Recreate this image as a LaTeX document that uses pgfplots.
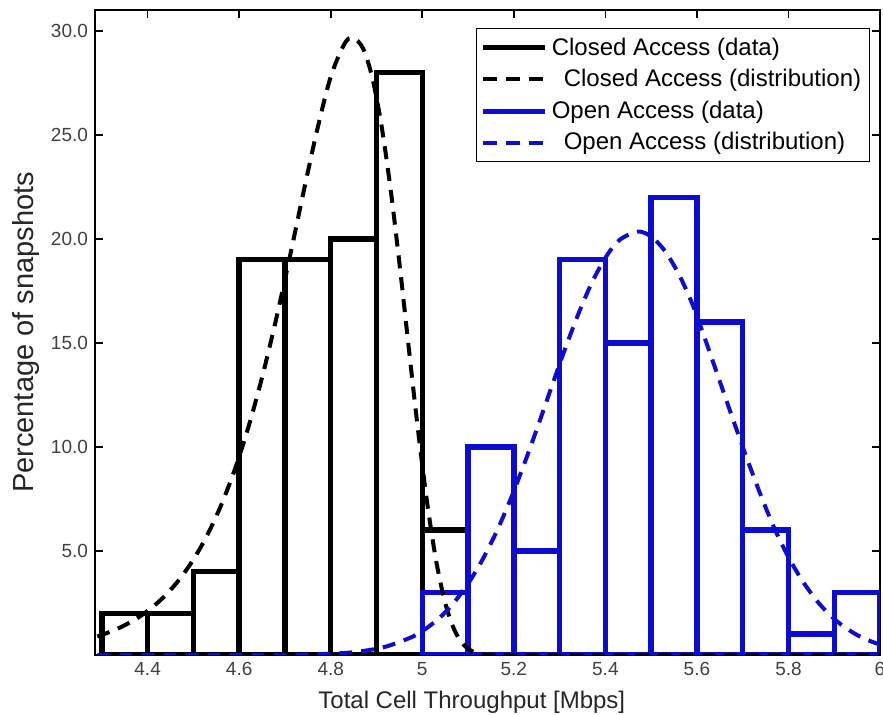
\documentclass[border=0pt]{standalone}
\usepackage{pgfplots}
\pgfplotsset{compat=1.18}
\usepackage{fontspec}
\setmainfont{Liberation Sans}
\definecolor{mblue}{rgb}{0.05,0.05,0.82}
\begin{document}
\begin{tikzpicture}
\begin{axis}[
  name=ax,
  scale only axis, width=392.5pt, height=322.5pt,
  xmin=4.285, xmax=6, ymin=0, ymax=31,
  xtick={4.4,4.6,4.8,5,5.2,5.4,5.6,5.8,6},
  xticklabels={4.4,4.6,4.8,5,5.2,5.4,5.6,5.8,6},
  ytick={5,10,15,20,25,30},
  yticklabels={5.0,10.0,15.0,20.0,25.0,30.0},
  /pgf/number format/assume math mode=true,
  tick align=inside, major tick length=4pt,
  axis line style={line width=0.8pt},
  tick style={black, line width=0.8pt},
  ticklabel style={font=\fontsize{9.5}{11}\selectfont, text=black!75},
  xlabel={Total Cell Throughput [Mbps]},
  ylabel={Percentage of snapshots},
  xlabel style={font=\fontsize{12}{14}\selectfont, text=black!85, at={(axis description cs:0.48,0)}, anchor=center, yshift=-23.5pt},
  ylabel style={font=\fontsize{14.5}{16}\selectfont, text=black!85, at={(axis description cs:-0.088,0.5)}, anchor=center},
  legend style={at={(axis description cs:0.987,0.972)}, anchor=north east,
    draw=black, line width=0.6pt, font=\fontsize{12}{14}\selectfont,
    inner xsep=2pt, inner ysep=2.5pt, row sep=1.6pt},
  legend cell align=left,
  legend image code/.code={\draw[#1] (0pt,0pt) -- (31pt,0pt);},
]
% Closed access histogram
\addplot[forget plot, ybar, bar width=0.1, bar shift=0pt, draw=black, fill=none, line width=2.7pt, line join=miter]
  coordinates {(4.35,2)(4.45,2)(4.55,4)(4.65,19)(4.75,19)(4.85,20)(4.95,28)(5.05,6)};
% Open access histogram
\addplot[forget plot, ybar, bar width=0.1, bar shift=0pt, draw=mblue, fill=none, line width=2.7pt, line join=miter]
  coordinates {(5.05,3)(5.15,10)(5.25,5)(5.35,19)(5.45,15)(5.55,22)(5.65,16)(5.75,6)(5.85,1)(5.95,3)};
% Closed access distribution
\addplot[forget plot, black, line width=2pt, dash pattern=on 6.5pt off 4.5pt, smooth]
  coordinates {(4.29,0.89)(4.32,1.13)(4.35,1.43)(4.38,1.81)(4.41,2.29)(4.44,2.89)(4.47,3.65)(4.50,4.59)(4.53,5.75)(4.56,7.17)(4.59,8.89)(4.62,10.94)(4.65,13.34)(4.68,16.07)(4.71,19.07)(4.74,22.19)(4.77,25.20)(4.80,27.79)(4.83,29.37)(4.848,29.67)(4.87,29.18)(4.89,27.82)(4.91,25.57)(4.93,22.52)(4.95,18.85)(4.97,14.86)(4.99,10.94)(5.01,7.42)(5.03,4.56)(5.05,2.51)(5.07,1.21)(5.09,0.50)(5.11,0.17)(5.13,0.05)(5.16,0.01)(5.3,0)(5.6,0)(6,0)};
% Open access distribution
\addplot[forget plot, mblue, line width=2pt, dash pattern=on 6.5pt off 4.5pt, smooth]
  coordinates {(4.29,0)(4.5,0)(4.6,0.001)(4.7,0.009)(4.80,0.06)(4.86,0.16)(4.92,0.40)(4.98,0.89)(5.01,1.30)(5.04,1.83)(5.07,2.54)(5.10,3.43)(5.13,4.52)(5.16,5.82)(5.19,7.33)(5.22,9.02)(5.25,10.84)(5.28,12.73)(5.31,14.59)(5.34,16.34)(5.37,17.87)(5.40,19.09)(5.43,19.93)(5.47,20.35)(5.50,20.11)(5.53,19.42)(5.56,18.32)(5.59,16.87)(5.62,15.05)(5.65,13.15)(5.68,11.25)(5.71,9.40)(5.74,7.65)(5.77,6.05)(5.80,4.70)(5.83,3.58)(5.86,2.66)(5.89,1.93)(5.92,1.38)(5.95,0.96)(5.98,0.66)(6.00,0.50)};
\addlegendimage{black, line width=2.5pt}
\addlegendimage{black, line width=2pt, dash pattern=on 7pt off 4.5pt}
\addlegendimage{mblue, line width=2.5pt}
\addlegendimage{mblue, line width=2pt, dash pattern=on 7pt off 4.5pt}
\legend{Closed Access (data),\hspace{6pt}Closed Access (distribution),Open Access (data),\hspace{6pt}Open Access (distribution)}
\end{axis}
\pgfresetboundingbox
\path[use as bounding box] ([shift={(-47.5pt,-30pt)}]ax.south west) rectangle ([shift={(1.5pt,5pt)}]ax.north east);
\end{tikzpicture}
\end{document}
